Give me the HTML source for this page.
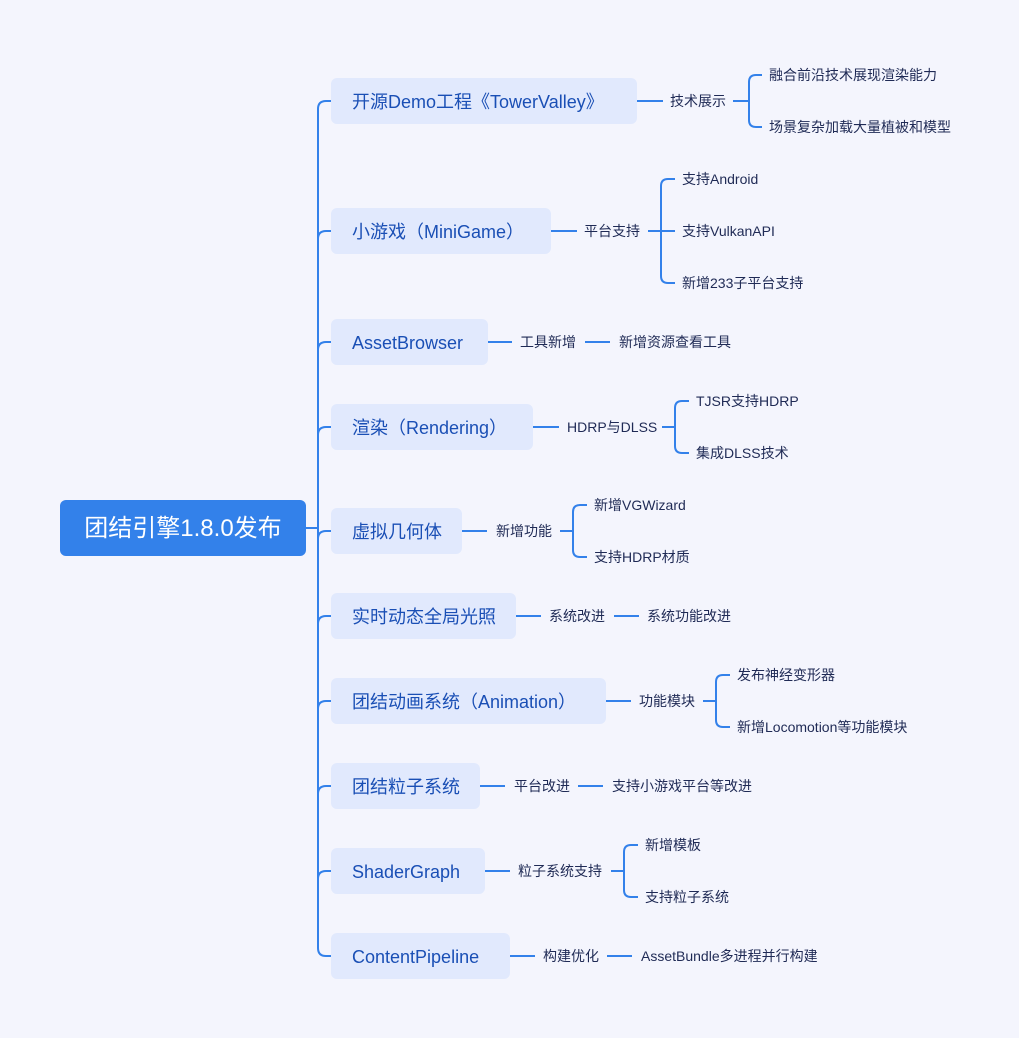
<!DOCTYPE html>
<html><head><meta charset="utf-8"><style>
html,body{margin:0;padding:0;background:#f4f5fd;}
svg{display:block}
.b{font-family:"Liberation Sans","Noto Sans CJK SC",sans-serif;font-size:18px;fill:#1a4fb5;}
.l{font-family:"Liberation Sans","Noto Sans CJK SC",sans-serif;font-size:14px;fill:#1f2a55;}
</style></head><body>
<svg width="1019" height="1038" viewBox="0 0 1019 1038" xmlns="http://www.w3.org/2000/svg">
<rect width="1019" height="1038" fill="#f4f5fd"/>
<g stroke="#3381ea" stroke-width="2" fill="none">
<path d="M306 528H318"/>
<path d="M331 101H326Q318 101 318 109V948Q318 956 326 956H331"/>
<path d="M318 239Q318 231 326 231H331"/>
<path d="M318 350Q318 342 326 342H331"/>
<path d="M318 435Q318 427 326 427H331"/>
<path d="M318 539Q318 531 326 531H331"/>
<path d="M318 624Q318 616 326 616H331"/>
<path d="M318 709Q318 701 326 701H331"/>
<path d="M318 794Q318 786 326 786H331"/>
<path d="M318 879Q318 871 326 871H331"/>
<!-- b1 -->
<path d="M637 101H663M733 101H749M762 75H756Q749 75 749 82V120Q749 127 756 127H762"/>
<!-- b2 -->
<path d="M551 231H577M648 231H675M675 179H668Q661 179 661 186V276Q661 283 668 283H675"/>
<!-- b3 -->
<path d="M488 342H512M585 342H610"/>
<!-- b4 -->
<path d="M533 427H559M662 427H675M689 401H682Q675 401 675 408V446Q675 453 682 453H689"/>
<!-- b5 -->
<path d="M462 531H487M560 531H573M587 505H580Q573 505 573 512V550Q573 557 580 557H587"/>
<!-- b6 -->
<path d="M516 616H541M614 616H639"/>
<!-- b7 -->
<path d="M606 701H631M703 701H716M730 675H723Q716 675 716 682V720Q716 727 723 727H730"/>
<!-- b8 -->
<path d="M480 786H505M578 786H603"/>
<!-- b9 -->
<path d="M485 871H510M611 871H624M638 845H631Q624 845 624 852V890Q624 897 631 897H638"/>
<!-- b10 -->
<path d="M510 956H535M607 956H632"/>
</g>
<rect x="60" y="500" width="246" height="56" rx="6" fill="#3381ea"/>
<text x="183" y="536" text-anchor="middle" font-family="Liberation Sans,Noto Sans CJK SC,sans-serif" font-size="24" fill="#fff">团结引擎1.8.0发布</text>
<g fill="#e1e9fd">
<rect x="331" y="78" width="306" height="46" rx="6"/>
<rect x="331" y="208" width="220" height="46" rx="6"/>
<rect x="331" y="319" width="157" height="46" rx="6"/>
<rect x="331" y="404" width="202" height="46" rx="6"/>
<rect x="331" y="508" width="131" height="46" rx="6"/>
<rect x="331" y="593" width="185" height="46" rx="6"/>
<rect x="331" y="678" width="275" height="46" rx="6"/>
<rect x="331" y="763" width="149" height="46" rx="6"/>
<rect x="331" y="848" width="154" height="46" rx="6"/>
<rect x="331" y="933" width="179" height="46" rx="6"/>
</g>
<g class="b">
<text x="352" y="108">开源Demo工程《TowerValley》</text>
<text x="352" y="238">小游戏（MiniGame）</text>
<text x="352" y="349">AssetBrowser</text>
<text x="352" y="434">渲染（Rendering）</text>
<text x="352" y="538">虚拟几何体</text>
<text x="352" y="623">实时动态全局光照</text>
<text x="352" y="708">团结动画系统（Animation）</text>
<text x="352" y="793">团结粒子系统</text>
<text x="352" y="878">ShaderGraph</text>
<text x="352" y="963">ContentPipeline</text>
</g>
<g class="l">
<text x="670" y="106">技术展示</text>
<text x="769" y="80">融合前沿技术展现渲染能力</text>
<text x="769" y="132">场景复杂加载大量植被和模型</text>
<text x="584" y="236">平台支持</text>
<text x="682" y="184">支持Android</text>
<text x="682" y="236">支持VulkanAPI</text>
<text x="682" y="288">新增233子平台支持</text>
<text x="520" y="347">工具新增</text>
<text x="619" y="347">新增资源查看工具</text>
<text x="567" y="432">HDRP与DLSS</text>
<text x="696" y="406">TJSR支持HDRP</text>
<text x="696" y="458">集成DLSS技术</text>
<text x="496" y="536">新增功能</text>
<text x="594" y="510">新增VGWizard</text>
<text x="594" y="562">支持HDRP材质</text>
<text x="549" y="621">系统改进</text>
<text x="647" y="621">系统功能改进</text>
<text x="639" y="706">功能模块</text>
<text x="737" y="680">发布神经变形器</text>
<text x="737" y="732">新增Locomotion等功能模块</text>
<text x="514" y="791">平台改进</text>
<text x="612" y="791">支持小游戏平台等改进</text>
<text x="518" y="876">粒子系统支持</text>
<text x="645" y="850">新增模板</text>
<text x="645" y="902">支持粒子系统</text>
<text x="543" y="961">构建优化</text>
<text x="641" y="961">AssetBundle多进程并行构建</text>
</g>
</svg>
</body></html>
